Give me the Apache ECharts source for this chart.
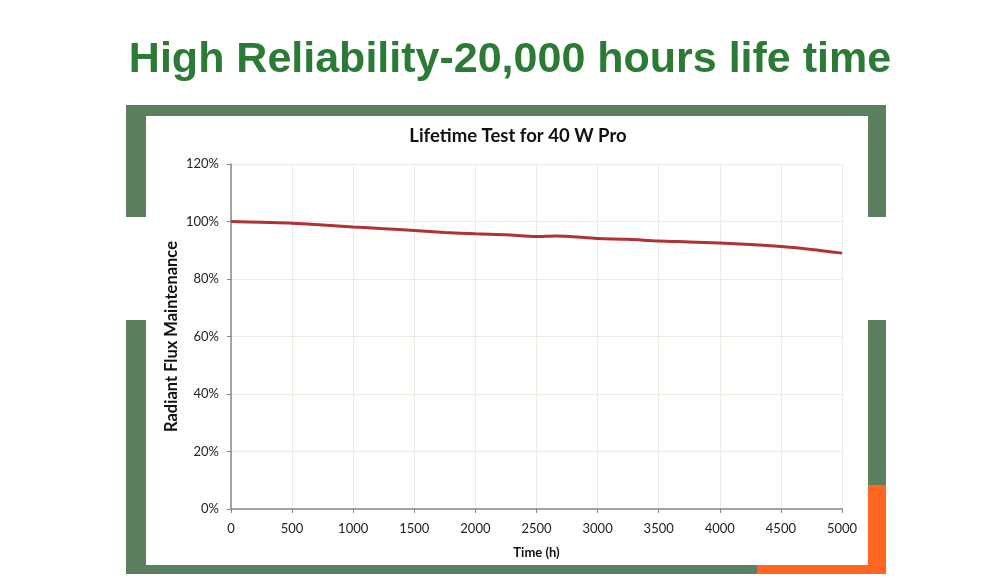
<!DOCTYPE html>
<html>
<head>
<meta charset="utf-8">
<script src="https://cdn.jsdelivr.net/npm/echarts@6/dist/echarts.min.js"></script>
<style>
  html, body { margin: 0; padding: 0; background: #fff; }
  #chart { width: 1000px; height: 588px; }
</style>
</head>
<body>
<div id="chart"></div>
<script>
// hours and radiant flux maintenance (%)
const hours = [0, 250, 500, 750, 1000, 1250, 1500, 1750, 2000, 2250, 2500, 2650, 3000, 3250, 3500, 3750, 4000, 4250, 4500, 4750, 5000]
const maintenance = [100, 99.7, 99.4, 98.8, 98.1, 97.5, 96.9, 96.2, 95.7, 95.4, 94.8, 95.0, 94.1, 93.8, 93.2, 92.9, 92.5, 92.0, 91.3, 90.3, 89.0]

const pageTitle = 'High Reliability-20,000 hours life time'
const chartTitle = 'Lifetime Test for 40 W Pro'

const green = '#5b7f5f'
const orange = '#ff6622'

// frame around the chart panel
function bar(x, y, w, h, color) {
    return { type: 'rect', shape: { x: x, y: y, width: w, height: h }, style: { fill: color }, z: 0 }
}

const chart = echarts.init(document.getElementById('chart'))
chart.setOption({
    backgroundColor: '#fff',
    animation: false,
    title: [
        {
            text: pageTitle, left: 505, textAlign: 'center', top: 34,
            textStyle: { fontFamily: 'Liberation Sans', fontWeight: 'bold', fontSize: 43, color: '#2b7a36' }
        },
        {
            text: chartTitle, left: 513, textAlign: 'center', top: 122,
            textStyle: { fontFamily: 'Lato', fontWeight: 'bold', fontSize: 18.5, color: '#111' }
        }
    ],
    graphic: [
        bar(126, 105, 760, 11, green),
        bar(126, 105, 20, 112, green),
        bar(868, 105, 18, 112, green),
        bar(126, 320, 20, 254, green),
        bar(868, 320, 18, 165, green),
        bar(868, 485, 18, 89, orange),
        bar(126, 565, 631, 9, green),
        bar(757, 565, 129, 9, orange)
    ],
    grid: { left: 231, right: 158, top: 164, bottom: 79 },
    xAxis: {
        type: 'value', min: 0, max: 5000, interval: 500,
        name: 'Time (h)', nameLocation: 'middle', nameGap: 37,
        nameTextStyle: { fontFamily: 'Lato', fontWeight: 'bold', fontSize: 13, color: '#111' },
        axisLine: { lineStyle: { color: '#888', width: 1.5 } },
        axisTick: { show: true, length: 4, lineStyle: { color: '#888' } },
        axisLabel: { fontFamily: 'Lato', fontSize: 13, color: '#222', margin: 13, formatter: v => String(v) },
        splitLine: { show: true, lineStyle: { color: '#ecebe2', width: 1 } }
    },
    yAxis: {
        type: 'value', min: 0, max: 120, interval: 20,
        name: 'Radiant Flux Maintenance', nameLocation: 'middle', nameGap: 59, nameRotate: 90,
        nameMoveOverlap: false,
        nameTextStyle: { fontFamily: 'Lato', fontWeight: 'bold', fontSize: 16.5, color: '#111', verticalAlign: 'middle' },
        axisLine: { show: true, lineStyle: { color: '#888', width: 1.5 } },
        axisTick: { show: true, length: 4, lineStyle: { color: '#888' } },
        axisLabel: { fontFamily: 'Lato', fontSize: 13, color: '#222', margin: 12, formatter: '{value}%' },
        splitLine: { show: true, lineStyle: { color: '#ecebe2', width: 1 } }
    },
    series: [{
        type: 'line',
        data: hours.map((h, i) => [h, maintenance[i]]),
        showSymbol: false,
        smooth: 0.3,
        lineStyle: { color: '#b03232', width: 3 },
        z: 3
    }]
})
</script>
</body>
</html>
